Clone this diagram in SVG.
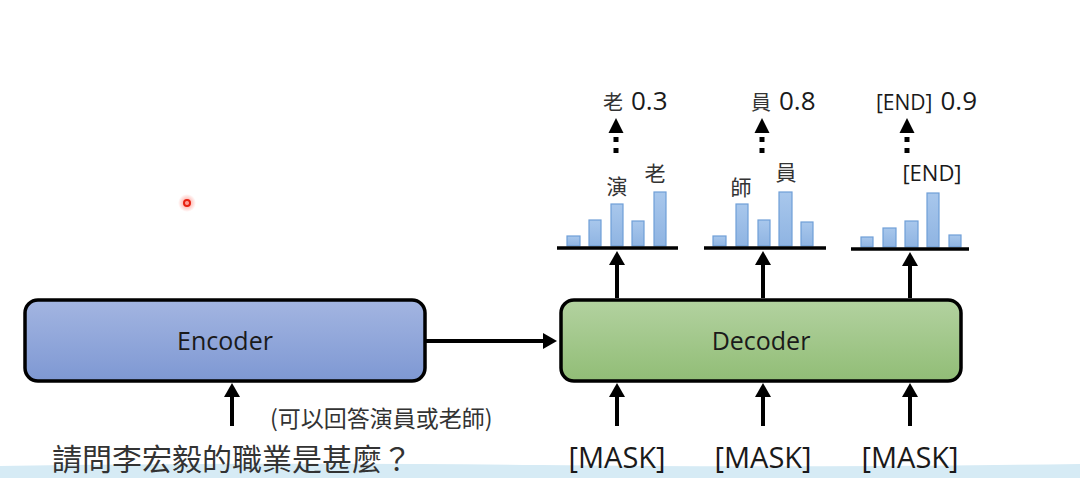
<svg xmlns="http://www.w3.org/2000/svg" width="1080" height="478" viewBox="0 0 1080 478">
<defs>
<linearGradient id="gEnc" x1="0" y1="0" x2="0" y2="1"><stop offset="0" stop-color="#a3b5e1"/><stop offset="1" stop-color="#7e98d3"/></linearGradient>
<linearGradient id="gDec" x1="0" y1="0" x2="0" y2="1"><stop offset="0" stop-color="#b3d2a0"/><stop offset="1" stop-color="#91bd76"/></linearGradient>
<linearGradient id="gBar" x1="0" y1="0" x2="0" y2="1"><stop offset="0" stop-color="#a8c7ec"/><stop offset="1" stop-color="#8fb4e2"/></linearGradient>
<radialGradient id="gDot"><stop offset="0" stop-color="#ff4a3a" stop-opacity="0.6"/><stop offset="1" stop-color="#ff4a3a" stop-opacity="0"/></radialGradient>
<marker id="ah" markerWidth="4" markerHeight="4" refX="2.5" refY="2" orient="auto" markerUnits="strokeWidth"><path d="M0,0 L3.5,2 L0,4 Z" fill="#000"/></marker>
</defs>
<style>
.box{stroke:#000;stroke-width:3.5}
.lbl{font-family:"Open Sans","Noto Sans",sans-serif;fill:#1a1a1a}
.cjk{font-family:"Noto Sans CJK TC","Noto Sans",sans-serif;fill:#333}
.bar{fill:url(#gBar);stroke:#6f9fd8;stroke-width:1.2}
.base{stroke:#000;stroke-width:3.5}
.conn{stroke:#000;stroke-width:4;fill:none;marker-end:url(#ah)}
</style>
<rect width="1080" height="478" fill="#fff"/>
<path d="M0,466 Q300,462 540,465 T1080,464 L1080,478 L0,478 Z" fill="#d6ebf5"/>
<circle cx="187" cy="203" r="9" fill="url(#gDot)"/>
<circle cx="187" cy="203" r="3" fill="none" stroke="#e82010" stroke-width="2"/>

<g id="encoder">
<rect class="box" x="25" y="300" width="400" height="81" rx="13" fill="url(#gEnc)"/>
<text class="lbl" x="225" y="350" font-size="25" text-anchor="middle">Encoder</text>
</g>
<g id="decoder">
<rect class="box" x="561" y="300" width="400" height="81" rx="13" fill="url(#gDec)"/>
<text class="lbl" x="761" y="350" font-size="25" text-anchor="middle">Decoder</text>
</g>

<g id="input">
<text class="cjk" x="270" y="427" font-size="23">(可以回答演員或老師)</text>
<text class="cjk" x="52" y="470" font-size="30">請問李宏毅的職業是甚麼？</text>
</g>
<g id="masks">
<text class="lbl" x="617" y="468" font-size="29" text-anchor="middle" fill="#222">[MASK]</text>
<text class="lbl" x="763" y="468" font-size="29" text-anchor="middle" fill="#222">[MASK]</text>
<text class="lbl" x="910" y="468" font-size="29" text-anchor="middle" fill="#222">[MASK]</text>
</g>

<g id="dist1">
<rect class="bar" x="567" y="236" width="13" height="10"/>
<rect class="bar" x="589" y="220" width="12" height="26"/>
<rect class="bar" x="611" y="204" width="12" height="42"/>
<rect class="bar" x="632" y="221" width="12" height="25"/>
<rect class="bar" x="654" y="192" width="12" height="54"/>
<line class="base" x1="557" y1="248" x2="678" y2="248"/>
<text class="cjk" x="617" y="194" font-size="21" text-anchor="middle">演</text>
<text class="cjk" x="655" y="181" font-size="21" text-anchor="middle">老</text>
</g>
<g id="dist2">
<rect class="bar" x="713" y="236" width="13" height="10"/>
<rect class="bar" x="736" y="204" width="12" height="42"/>
<rect class="bar" x="758" y="220" width="12" height="26"/>
<rect class="bar" x="779" y="192" width="13" height="54"/>
<rect class="bar" x="801" y="222" width="12" height="24"/>
<line class="base" x1="704" y1="248" x2="826" y2="248"/>
<text class="cjk" x="741" y="195" font-size="21" text-anchor="middle">師</text>
<text class="cjk" x="786" y="180" font-size="21" text-anchor="middle">員</text>
</g>
<g id="dist3">
<rect class="bar" x="861" y="237" width="12" height="10"/>
<rect class="bar" x="883" y="228" width="13" height="19"/>
<rect class="bar" x="905" y="221" width="13" height="26"/>
<rect class="bar" x="927" y="193" width="12" height="54"/>
<rect class="bar" x="949" y="235" width="12" height="12"/>
<line class="base" x1="851" y1="249" x2="969" y2="249"/>
<text class="lbl" x="932" y="181" font-size="22" text-anchor="middle" fill="#333">[END]</text>
</g>

<g id="outputs">
<text x="603" y="110"><tspan class="cjk" font-size="20">老</tspan><tspan class="lbl" font-size="26" dx="8">0.3</tspan></text>
<text x="751" y="110"><tspan class="cjk" font-size="20">員</tspan><tspan class="lbl" font-size="26" dx="8">0.8</tspan></text>
<text x="876" y="110"><tspan class="lbl" font-size="21" fill="#333">[END]</tspan><tspan class="lbl" font-size="26" dx="8">0.9</tspan></text>
</g>

<g id="connectors">
<line class="conn" x1="425" y1="341" x2="553" y2="341"/>
<line class="conn" x1="232" y1="426" x2="232" y2="387"/>
<line class="conn" x1="617" y1="426" x2="617" y2="387"/>
<line class="conn" x1="763" y1="426" x2="763" y2="387"/>
<line class="conn" x1="910" y1="426" x2="910" y2="387"/>
<line class="conn" x1="617" y1="298" x2="617" y2="255"/>
<line class="conn" x1="763" y1="298" x2="763" y2="255"/>
<line class="conn" x1="910" y1="298" x2="910" y2="256"/>
<g fill="#000">
<path d="M616,118 L623.5,133 L608.5,133 Z"/><rect x="613.5" y="137" width="5" height="5"/><rect x="613.5" y="148" width="5" height="5"/>
<path d="M762,118 L769.5,133 L754.5,133 Z"/><rect x="759.5" y="137" width="5" height="5"/><rect x="759.5" y="148" width="5" height="5"/>
<path d="M907,118 L914.5,133 L899.5,133 Z"/><rect x="904.5" y="137" width="5" height="5"/><rect x="904.5" y="148" width="5" height="5"/>
</g>
</g>
</svg>
